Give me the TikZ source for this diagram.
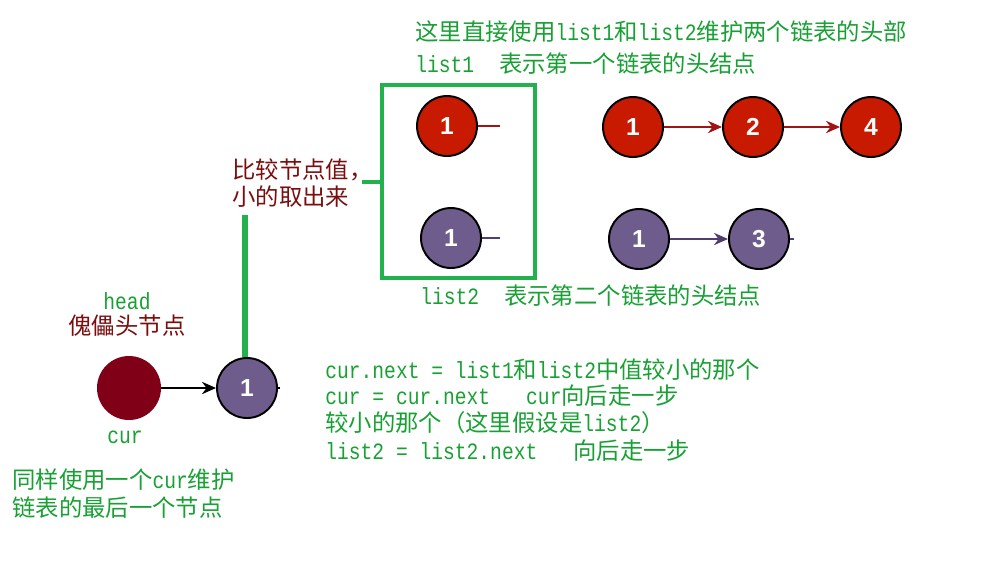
\documentclass[tikz,border=0pt]{standalone}
\usepackage{fontspec}
\setmainfont{Liberation Sans}
\newfontfamily\cjk{Noto Sans CJK SC}
\newfontfamily\mono{Liberation Mono}[FakeStretch=0.84]
\newfontfamily\numfont{Liberation Sans}
\usetikzlibrary{arrows.meta}
\definecolor{txtgreen}{RGB}{24,160,52}
\definecolor{boxgreen}{RGB}{34,177,76}
\definecolor{dred}{RGB}{122,14,14}
\definecolor{nred}{RGB}{200,26,0}
\definecolor{npurple}{RGB}{110,92,140}
\definecolor{hred}{RGB}{128,0,24}
\definecolor{ared}{RGB}{160,20,20}
\definecolor{apurple}{RGB}{80,62,112}
\tikzset{
  x=0.02cm, y=-0.02cm,
  txt/.style={anchor=west, inner sep=0pt, text=txtgreen, font=\fontsize{13.3}{16}\selectfont},
  rtxt/.style={txt, text=dred},
  rnode/.style={circle, draw=black, line width=1.1pt, fill=nred, minimum size=1.2cm, inner sep=0pt, text=white, font=\numfont\bfseries\fontsize{14}{16}\selectfont},
  pnode/.style={rnode, fill=npurple},
  rarrow/.style={draw=ared, line width=1pt, -{Stealth[length=8pt,width=7pt]}},
  parrow/.style={draw=apurple, line width=1pt, -{Stealth[length=8pt,width=7pt]}},
}
\begin{document}
\begin{tikzpicture}
\useasboundingbox (0,0) rectangle (1000,566);
% header texts
\node[txt] (t1) at (415,32) {\cjk 这里直接使用\mono list1\cjk 和\mono list2\cjk 维护两个链表的头部};
\node[txt] (t2) at (415,64) {\mono list1\hspace{0.5cm}\cjk 表示第一个链表的头结点};
\node[txt] (t3) at (420,296) {\mono list2\hspace{0.5cm}\cjk 表示第二个链表的头结点};
% box
\node[draw=boxgreen, line width=1.9pt, minimum width=3.06cm, minimum height=3.86cm, inner sep=0pt] (box) at (458.5,181.5) {};
\node[rnode] (a1) at (447,126) {1};
\node[pnode] (b1) at (451,238) {1};
\coordinate (a1s) at (500,126);
\coordinate (b1s) at (500,238);
\draw[ared, line width=1pt] (a1) -- (a1s);
\draw[apurple, line width=1pt] (b1) -- (b1s);
% list1 chain
\node[rnode] (l1) at (633,127) {1};
\node[rnode] (l2) at (753,127) {2};
\node[rnode] (l4) at (871,127) {4};
\draw[rarrow] (l1) -- (l2);
\draw[rarrow] (l2) -- (l4);
% list2 chain
\node[pnode] (m1) at (639,239) {1};
\node[pnode] (m3) at (759,239) {3};
\coordinate (m3s) at (794,239);
\draw[parrow] (m1) -- (m3);
\draw[apurple, line width=1pt] (m3) -- (m3s);
% compare label
\node[rtxt] (cmp1) at (232,170) {\cjk 比较节点值，};
\node[rtxt] (cmp2) at (232,197) {\cjk 小的取出来};
\coordinate (hs) at (362,182);
\draw[boxgreen, line width=2.2pt] (hs) -- (box.west |- hs);
% head
\node[txt, anchor=center] (headl) at (127,301) {\mono head};
\node[rtxt, anchor=center] (headc) at (127,326) {\cjk 傀儡头节点};
\node[circle, fill=hred, minimum size=1.28cm, inner sep=0pt] (hd) at (129,388) {};
\node[pnode] (h1) at (247,388) {1};
\coordinate (h1s) at (280,388);
\coordinate (vb) at (245,215);
\draw[boxgreen, line width=3.4pt] (vb) -- (h1.north -| vb);
\draw[black, line width=1.1pt, -{Stealth[length=8pt,width=7pt]}] (hd) -- (h1);
\draw[black, line width=1pt] (h1) -- (h1s);
\node[txt, anchor=center] (curl) at (125,437) {\mono cur};
\node[txt] (c1) at (12,480) {\cjk 同样使用一个\mono cur\cjk 维护};
\node[txt] (c2) at (12,508) {\cjk 链表的最后一个节点};
% explanation
\node[txt] (e1) at (325,370) {\mono cur.next = list1\cjk 和\mono list2\cjk 中值较小的那个};
\node[txt] (e2) at (325,396) {\mono cur = cur.next\hspace{0.72cm}cur\cjk 向后走一步};
\node[txt] (e3) at (325,423) {\cjk 较小的那个（这里假设是\mono list2\cjk ）};
\node[txt] (e4) at (325,451) {\mono list2 = list2.next\hspace{0.72cm}\cjk 向后走一步};
\end{tikzpicture}
\end{document}
